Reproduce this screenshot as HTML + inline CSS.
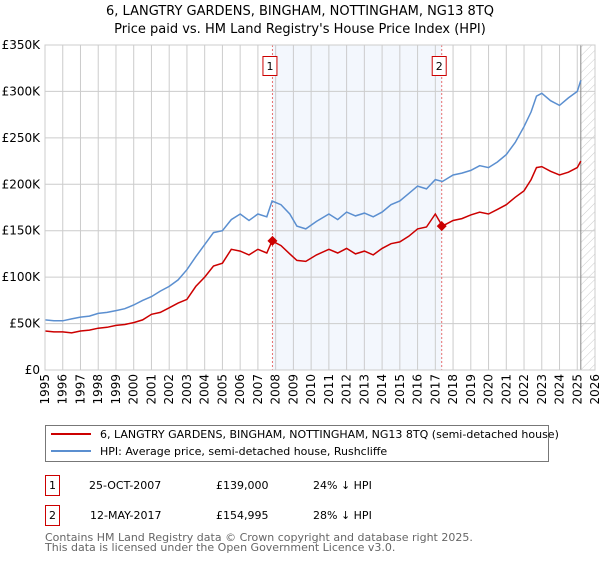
<!DOCTYPE html>
<html><head><meta charset="utf-8"><style>
body{margin:0;background:#fff;font-family:"Liberation Sans","DejaVu Sans",sans-serif;}
svg text{font-family:"DejaVu Sans","Liberation Sans",sans-serif;}
</style></head><body>
<svg id="chart" width="600" height="560" xmlns="http://www.w3.org/2000/svg">
<defs><pattern id="hatch" patternUnits="userSpaceOnUse" width="6" height="6" patternTransform="rotate(45)"><line x1="0" y1="0" x2="0" y2="6" stroke="#ccc" stroke-width="1"/></pattern></defs>
<text x="300" y="15" text-anchor="middle" font-size="13">6, LANGTRY GARDENS, BINGHAM, NOTTINGHAM, NG13 8TQ</text>
<text x="300" y="33" text-anchor="middle" font-size="13">Price paid vs. HM Land Registry's House Price Index (HPI)</text>
<g id="plot"></g>
<g>
<rect x="45.5" y="425.5" width="503" height="36" fill="#fff" stroke="#777"/>
<line x1="51" y1="434" x2="91" y2="434" stroke="#cc0000" stroke-width="2"/>
<text x="100" y="438" font-size="11">6, LANGTRY GARDENS, BINGHAM, NOTTINGHAM, NG13 8TQ (semi-detached house)</text>
<line x1="51" y1="451" x2="91" y2="451" stroke="#5b8fd0" stroke-width="2"/>
<text x="100" y="455" font-size="11">HPI: Average price, semi-detached house, Rushcliffe</text>
</g>
<g font-size="11">
<rect x="45.5" y="475.5" width="14" height="20" fill="#fff" stroke="#cc0000"/><text x="52.5" y="489" text-anchor="middle">1</text>
<text x="89" y="489">25-OCT-2007</text><text x="216" y="489">£139,000</text><text x="313" y="489">24% ↓ HPI</text>
<rect x="45.5" y="505.5" width="14" height="20" fill="#fff" stroke="#cc0000"/><text x="52.5" y="519" text-anchor="middle">2</text>
<text x="90" y="519">12-MAY-2017</text><text x="216" y="519">£154,995</text><text x="313" y="519">28% ↓ HPI</text>
</g>
<text x="45" y="541" font-size="11" fill="#666">Contains HM Land Registry data © Crown copyright and database right 2025.</text>
<text x="45" y="551" font-size="11" fill="#666">This data is licensed under the Open Government Licence v3.0.</text>
</svg>
<script>
const hpiYears=[1995,1995.5,1996,1996.5,1997,1997.5,1998,1998.5,1999,1999.5,2000,2000.5,2001,2001.5,2002,2002.5,2003,2003.5,2004,2004.5,2005,2005.5,2006,2006.5,2007,2007.5,2007.8,2008.3,2008.8,2009.2,2009.7,2010.3,2011,2011.5,2012,2012.5,2013,2013.5,2014,2014.5,2015,2015.5,2016,2016.5,2017,2017.4,2018,2018.5,2019,2019.5,2020,2020.5,2021,2021.5,2022,2022.4,2022.7,2023,2023.5,2024,2024.5,2025,2025.2];
const hpiValues=[54,53,53,55,57,58,61,62,64,66,70,75,79,85,90,97,108,122,135,148,150,162,168,161,168,165,182,178,168,155,152,160,168,162,170,166,169,165,170,178,182,190,198,195,205,203,210,212,215,220,218,224,232,245,262,278,295,298,290,285,293,300,312];
const ppValues=[42,41,41,40,42,43,45,46,48,49,51,54,60,62,67,72,76,90,100,112,115,130,128,124,130,126,139,134,125,118,117,124,130,126,131,125,128,124,131,136,138,144,152,154,168,155,161,163,167,170,168,173,178,186,193,205,218,219,214,210,213,218,225];
const yTicks=[0,50,100,150,200,250,300,350];
const yTickLabels=["£0","£50K","£100K","£150K","£200K","£250K","£300K","£350K"];
const xTicks=[];for(let y=1995;y<=2026;y++)xTicks.push(y);
const sales=[{n:"1",t:2007.82,v:139},{n:"2",t:2017.36,v:155}];
const X0=45,X1=595,Y0=370,Y1=45;
const xs=t=>X0+(t-1995)/(2026-1995)*(X1-X0);
const ys=v=>Y0-v/350*(Y0-Y1);
const NS="http://www.w3.org/2000/svg";
const g=document.getElementById('plot');
function mk(tag,attrs,parent){const e=document.createElementNS(NS,tag);for(const k in attrs)e.setAttribute(k,attrs[k]);(parent||g).appendChild(e);return e;}
let band=mk('rect',{x:xs(sales[0].t),y:Y1,width:xs(sales[1].t)-xs(sales[0].t),height:Y0-Y1,fill:'#eef3fc',opacity:0.7});


let hat=mk('rect',{x:xs(2025.2),y:Y1,width:X1-xs(2025.2),height:Y0-Y1,fill:'url(#hatch)'});


xTicks.forEach(t=>{
 let l=mk('line',{x1:xs(t),x2:xs(t),y1:Y1,y2:Y0,stroke:'#ccc','stroke-width':1});
 
 
 let tx=mk('text',{x:0,y:0,'font-size':12,'text-anchor':'end',transform:`translate(${xs(t)+4},374) rotate(-90)`});
 tx.textContent=t;
 
 
});
yTicks.forEach((v,i)=>{
 let l=mk('line',{x1:X0,x2:X1,y1:ys(v),y2:ys(v),stroke:'#ccc','stroke-width':1});
 
 
 let tx=mk('text',{x:40,y:ys(v)+4,'font-size':12,'text-anchor':'end'});
 tx.textContent=yTickLabels[i];
 
 
});
let vl=mk('line',{x1:xs(2025.2),x2:xs(2025.2),y1:Y1,y2:Y0,stroke:'#888','stroke-width':1});


sales.forEach(s=>{
 let l=mk('line',{x1:xs(s.t),x2:xs(s.t),y1:Y1,y2:Y0,stroke:'#e87070','stroke-dasharray':'2,2','stroke-width':1});
 
 
 let r=mk('rect',{x:xs(s.t)-9.5,y:56.5,width:14,height:19,fill:'#fff',stroke:'#cc0000'});
 
 
 let tx=mk('text',{x:xs(s.t)-2.5,y:70,'font-size':11,'text-anchor':'middle'});
 tx.textContent=s.n;
 
 
});
function path(vals){return hpiYears.map((t,i)=>(i?'L':'M')+xs(t).toFixed(1)+','+ys(vals[i]).toFixed(1)).join(' ');}
let hp=mk('path',{d:path(hpiValues),fill:'none',stroke:'#5b8fd0','stroke-width':1.5});


let pp=mk('path',{d:path(ppValues),fill:'none',stroke:'#cc0000','stroke-width':1.5});


sales.forEach(s=>{
 const x=xs(s.t),y=ys(s.v);
 let d=mk('path',{d:`M${x},${y-5} L${x+5},${y} L${x},${y+5} L${x-5},${y} Z`,fill:'#cc0000'});
 
 
});
let fr=mk('rect',{x:X0,y:Y1,width:X1-X0,height:Y0-Y1,fill:'none',stroke:'#ccc'});


</script>
</body></html>
